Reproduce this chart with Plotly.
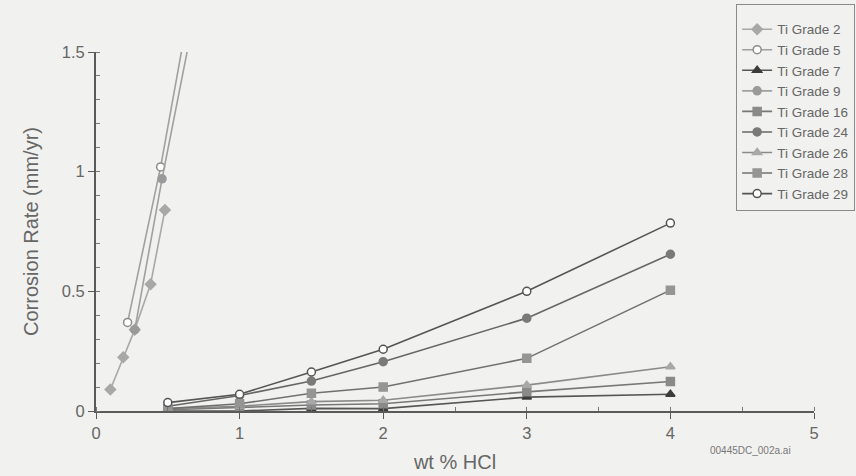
import plotly.graph_objects as go

# ---- data ----
x_low = [0.5, 1, 1.5, 2, 3, 4]
g2_x = [0.1, 0.19, 0.27, 0.38, 0.48]
g2_y = [0.09, 0.225, 0.34, 0.53, 0.84]
g5_x = [0.22, 0.45, 0.7]
g5_y = [0.37, 1.02, 1.85]
g9_x = [0.27, 0.46, 0.7]
g9_y = [0.34, 0.97, 1.7]
g7_y = [0.0, 0.0, 0.011, 0.01, 0.058, 0.07]
g16_y = [0.005, 0.015, 0.025, 0.03, 0.08, 0.123]
g24_y = [0.02, 0.065, 0.125, 0.206, 0.388, 0.655]
g26_y = [0.01, 0.02, 0.039, 0.045, 0.108, 0.185]
g28_y = [0.01, 0.03, 0.074, 0.10, 0.22, 0.505]
g29_y = [0.035, 0.07, 0.163, 0.258, 0.5, 0.785]

series = [
    ("Ti Grade 2", g2_x, g2_y, "diamond", "#a8a8a8", "#a8a8a8", "#a8a8a8"),
    ("Ti Grade 5", g5_x, g5_y, "circle", "#ffffff", "#8c8c8c", "#a0a0a0"),
    ("Ti Grade 7", x_low, g7_y, "triangle-up", "#3c3c3c", "#3c3c3c", "#555555"),
    ("Ti Grade 9", g9_x, g9_y, "circle", "#9a9a9a", "#9a9a9a", "#a0a0a0"),
    ("Ti Grade 16", x_low, g16_y, "square", "#8a8a8a", "#8a8a8a", "#777777"),
    ("Ti Grade 24", x_low, g24_y, "circle", "#7a7a7a", "#7a7a7a", "#666666"),
    ("Ti Grade 26", x_low, g26_y, "triangle-up", "#a8a8a8", "#a8a8a8", "#8a8a8a"),
    ("Ti Grade 28", x_low, g28_y, "square", "#959595", "#959595", "#707070"),
    ("Ti Grade 29", x_low, g29_y, "circle", "#ffffff", "#555555", "#555555"),
]

fig = go.Figure()
for name, xs, ys, sym, fill, edge, lc in series:
    fig.add_trace(go.Scatter(
        x=xs, y=ys, name=name, mode="lines+markers",
        line=dict(color=lc, width=1.6),
        marker=dict(symbol=sym, size=8, color=fill, line=dict(color=edge, width=1.5)),
        cliponaxis=True,
    ))

font = "Liberation Sans, Arial, sans-serif"
fig.update_layout(
    width=856, height=476,
    margin=dict(l=96, r=42, t=52, b=65, autoexpand=False),
    paper_bgcolor="#f1f1ef", plot_bgcolor="#f1f1ef",
    font=dict(family=font, color="#666666", size=16),
    showlegend=True,
    legend=dict(
        xref="container", yref="container",
        x=0.999, y=0.992, xanchor="right", yanchor="top",
        bgcolor="#f1f1ef", bordercolor="#8a8a8a", borderwidth=1,
        font=dict(size=13.5, color="#666666"), tracegroupgap=0,
        title=dict(text=" ", font=dict(size=7)),
    ),
    xaxis=dict(
        range=[0, 5], tickmode="array", tickvals=[0, 1, 2, 3, 4, 5],
        ticktext=["0", "1", "2", "3", "4", "5"], automargin=False,
        showgrid=False, zeroline=False, showline=True, linecolor="#5a5a5a", linewidth=2,
        ticks="outside", ticklen=6, tickcolor="#5a5a5a",
        minor=dict(dtick=0.5, ticks="inside", ticklen=4, tickcolor="#777777", showgrid=False),
        title=dict(text="wt % HCl", font=dict(size=20, color="#666666"), standoff=14),
        tickfont=dict(size=16.5, color="#666666"),
    ),
    yaxis=dict(
        range=[0, 1.5], tickmode="array", tickvals=[0, 0.5, 1, 1.5],
        ticktext=["0", "0.5", "1", "1.5"], automargin=False,
        showgrid=False, zeroline=False, showline=True, linecolor="#5a5a5a", linewidth=2,
        ticks="outside", ticklen=6, tickcolor="#5a5a5a",
        minor=dict(dtick=0.1, ticks="inside", ticklen=4, tickcolor="#777777", showgrid=False),
        title=dict(text="Corrosion Rate (mm/yr)", font=dict(size=20, color="#666666"), standoff=18),
        tickfont=dict(size=16.5, color="#666666"),
    ),
    annotations=[dict(
        text="00445DC_002a.ai", x=0.911, y=-0.109, xref="paper", yref="paper",
        xanchor="center", yanchor="middle", showarrow=False,
        font=dict(size=10, color="#777777"),
    )],
)

fig.write_html("out.html")
